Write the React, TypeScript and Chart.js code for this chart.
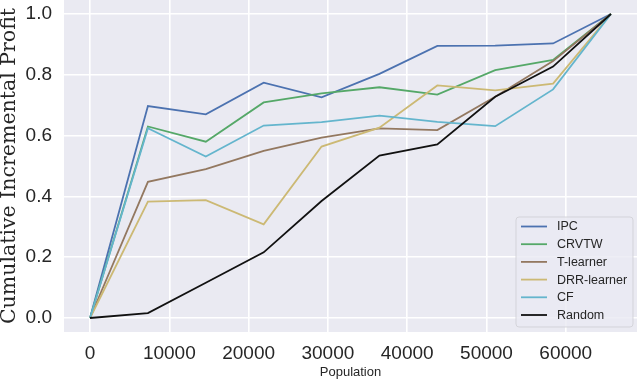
import React, { useEffect, useRef } from 'react';
import { Chart, registerables } from 'chart.js';

Chart.register(...registerables);

const population = [0, 7300, 14600, 21900, 29200, 36500, 43800, 51100, 58400, 65700];
const seriesNames = ['IPC', 'CRVTW', 'T-learner', 'DRR-learner', 'CF', 'Random'];
const ipc = [0, 0.697, 0.670, 0.774, 0.726, 0.803, 0.895, 0.896, 0.903, 1.0];
const crvtw = [0, 0.630, 0.580, 0.709, 0.739, 0.759, 0.735, 0.815, 0.849, 1.0];
const tLearner = [0, 0.448, 0.490, 0.550, 0.593, 0.624, 0.618, 0.728, 0.845, 1.0];
const drrLearner = [0, 0.383, 0.388, 0.308, 0.564, 0.626, 0.765, 0.749, 0.771, 1.0];
const cf = [0, 0.624, 0.531, 0.633, 0.644, 0.666, 0.645, 0.631, 0.752, 1.0];
const random = [0, 0.016, 0.116, 0.216, 0.385, 0.534, 0.571, 0.728, 0.827, 1.0];
const seriesValues = [ipc, crvtw, tLearner, drrLearner, cf, random];
const seriesColors = ['#4C72B0', '#55A868', '#937860', '#CCB974', '#64B5CD', '#111111'];
const xTickValues = [0, 10000, 20000, 30000, 40000, 50000, 60000];
const yTickValues = [0, 0.2, 0.4, 0.6, 0.8, 1.0];
const xTitle = 'Population';
const yTitle = 'Cumulative Incremental Profit';

const bgPlugin = {
  id: 'axesBg',
  beforeDraw(chart: any) {
    const { ctx, chartArea } = chart;
    ctx.save();
    ctx.fillStyle = '#EAEAF2';
    ctx.fillRect(chartArea.left, chartArea.top, chartArea.right - chartArea.left, chartArea.bottom - chartArea.top);
    ctx.restore();
  },
};

const legendPlugin = {
  id: 'boxLegend',
  afterDraw(chart: any) {
    const { ctx, chartArea } = chart;
    const w = 117;
    const h = 110;
    const x0 = chartArea.right - 4 - w;
    const y0 = chartArea.bottom - 5 - h;
    ctx.save();
    ctx.beginPath();
    const r = 3;
    ctx.moveTo(x0 + r, y0);
    ctx.arcTo(x0 + w, y0, x0 + w, y0 + h, r);
    ctx.arcTo(x0 + w, y0 + h, x0, y0 + h, r);
    ctx.arcTo(x0, y0 + h, x0, y0, r);
    ctx.arcTo(x0, y0, x0 + w, y0, r);
    ctx.closePath();
    ctx.fillStyle = 'rgba(234,234,242,0.8)';
    ctx.fill();
    ctx.strokeStyle = 'rgba(210,210,215,0.9)';
    ctx.lineWidth = 1;
    ctx.stroke();
    ctx.font = '12.5px "Liberation Sans", Arial, sans-serif';
    ctx.textBaseline = 'middle';
    ctx.textAlign = 'left';
    chart.data.datasets.forEach((ds: any, i: number) => {
      const cy = y0 + 9.5 + i * 17.7;
      ctx.strokeStyle = ds.borderColor;
      ctx.lineWidth = 1.8;
      ctx.beginPath();
      ctx.moveTo(x0 + 5, cy);
      ctx.lineTo(x0 + 31, cy);
      ctx.stroke();
      ctx.fillStyle = '#262626';
      ctx.fillText(ds.label, x0 + 41, cy + 0.5);
    });
    ctx.restore();
  },
};

export default function App() {
  const ref = useRef<HTMLCanvasElement | null>(null);
  useEffect(() => {
    document.body.style.margin = '0';
    const canvas = ref.current;
    if (!canvas) return;
    const chart = new Chart(canvas, {
      type: 'line',
      data: {
        datasets: seriesNames.map((name, i) => ({
          label: name,
          data: population.map((x, j) => ({ x, y: seriesValues[i][j] })),
          borderColor: seriesColors[i],
          backgroundColor: seriesColors[i],
          borderWidth: 1.8,
          pointRadius: 0,
          tension: 0,
          fill: false,
          order: seriesNames.length - i,
        })),
      },
      options: {
        animation: false,
        responsive: false,
        maintainAspectRatio: false,
        layout: { padding: { left: 0, right: 3, top: 0, bottom: 0 } },
        plugins: { legend: { display: false }, tooltip: { enabled: false } },
        scales: {
          x: {
            type: 'linear',
            min: -3285,
            max: 68985,
            afterBuildTicks: (axis: any) => {
              axis.ticks = xTickValues.map((v) => ({ value: v }));
            },
            afterFit: (axis: any) => {
              axis.height = 49;
              axis.paddingLeft = 0;
              axis.paddingRight = 0;
              axis.paddingTop = 0;
              axis.paddingBottom = 0;
            },
            grid: { color: '#ffffff', lineWidth: 1.6, drawTicks: false },
            border: { display: false },
            ticks: {
              padding: 10,
              color: '#262626',
              font: { family: '"Liberation Sans", Arial, sans-serif', size: 19 },
              maxRotation: 0,
              callback: (v: any) => String(v),
            },
            title: {
              display: true,
              text: xTitle,
              color: '#262626',
              font: { family: '"Liberation Sans", Arial, sans-serif', size: 13, lineHeight: 1.2 },
              padding: { top: 0, bottom: 1 },
            },
          },
          y: {
            type: 'linear',
            min: -0.046,
            max: 1.046,
            afterBuildTicks: (axis: any) => {
              axis.ticks = yTickValues.map((v) => ({ value: v }));
            },
            afterFit: (axis: any) => {
              axis.width = 64;
              axis.paddingLeft = 0;
              axis.paddingRight = 0;
              axis.paddingTop = 0;
              axis.paddingBottom = 0;
            },
            grid: { color: '#ffffff', lineWidth: 1.6, drawTicks: false },
            border: { display: false },
            ticks: {
              padding: 12,
              color: '#262626',
              font: { family: '"Liberation Sans", Arial, sans-serif', size: 19 },
              callback: (v: any) => Number(v).toFixed(1),
            },
            title: {
              display: true,
              text: yTitle,
              color: '#262626',
              font: { family: '"DejaVu Serif", serif', size: 20.5, lineHeight: 0.9 },
              padding: { top: 0, bottom: 0 },
            },
          },
        },
      },
      plugins: [bgPlugin, legendPlugin],
    } as any);
    return () => chart.destroy();
  }, []);
  return (
    <div style={{ position: 'relative', width: 640, height: 381 }}>
      <canvas ref={ref} width={640} height={381} style={{ width: 640, height: 381, display: 'block' }} />
    </div>
  );
}
